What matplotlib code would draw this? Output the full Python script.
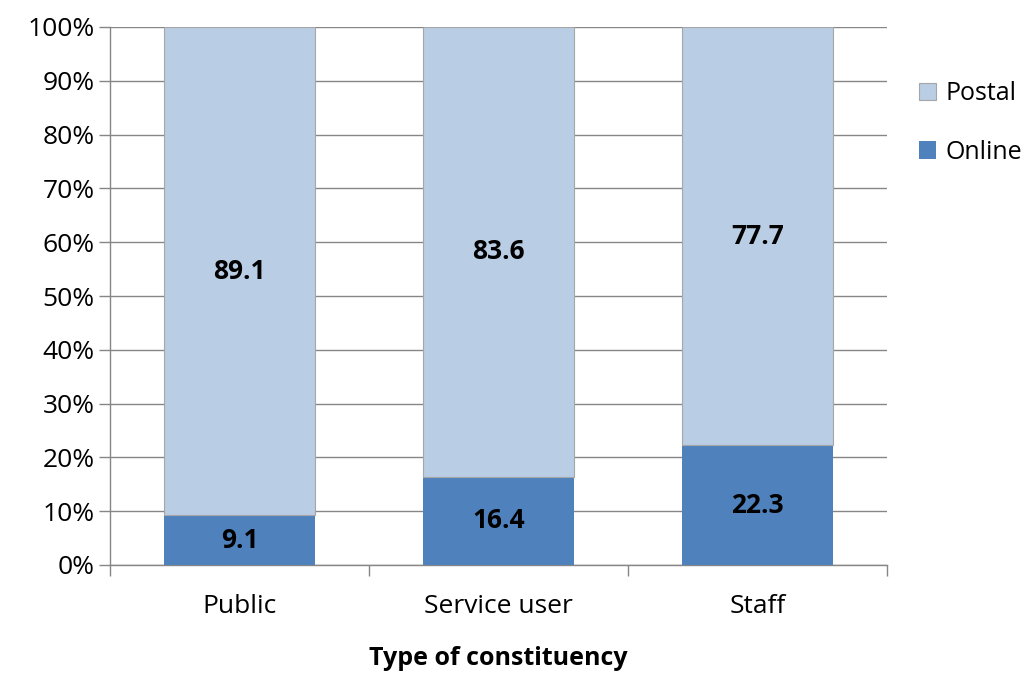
import numpy as np
import matplotlib.pyplot as plt

plt.rcParams['font.family'] = ['Open Sans', 'DejaVu Sans']

categories = ["Public", "Service user", "Staff"]
online = [9.1, 16.4, 22.3]
postal = [89.1, 83.6, 77.7]
yticks = [0, 10, 20, 30, 40, 50, 60, 70, 80, 90, 100]

on = np.array(online)
po = np.array(postal)
tot = on + po
on_pct = on / tot * 100
po_pct = po / tot * 100

fig = plt.figure(figsize=(10.33, 6.75), dpi=100)
ax = fig.add_axes([110 / 1033, 1 - 565 / 675, 777 / 1033, 538 / 675])

x = np.arange(len(categories))
w = 0.58
ax.bar(x, on_pct, w, color='#4F81BD', label='Online', zorder=3)
ax.bar(x, po_pct, w, bottom=on_pct, color='#B9CDE5', edgecolor='#A6A6A6',
       linewidth=0.8, label='Postal', zorder=3)

for i in range(len(categories)):
    ax.text(x[i], on_pct[i] / 2, f"{online[i]:.1f}", ha='center', va='center',
            fontsize=19, fontweight='bold', zorder=4)
    ax.text(x[i], on_pct[i] + po_pct[i] / 2, f"{postal[i]:.1f}", ha='center', va='center',
            fontsize=19, fontweight='bold', zorder=4)

ax.set_xlim(-0.5, len(categories) - 0.5)
ax.set_ylim(0, 100)
ax.set_yticks(yticks)
ax.set_yticklabels([f"{t}%" for t in yticks], fontsize=19)
ax.set_xticks(x)
ax.set_xticklabels(categories, fontsize=19)
ax.tick_params(axis='x', length=0, pad=21)
ax.set_xticks(np.arange(len(categories) + 1) - 0.5, minor=True)
ax.tick_params(axis='x', which='minor', length=8, color='#868686', width=1)
ax.tick_params(axis='y', length=8, color='#868686', width=1, pad=3)
ax.yaxis.grid(True, color='#868686', linewidth=1, zorder=0)
for s in ['top', 'right']:
    ax.spines[s].set_visible(False)
for s in ['left', 'bottom']:
    ax.spines[s].set_color('#868686')
    ax.spines[s].set_linewidth(1)

ax.set_xlabel("Type of constituency", fontsize=18, fontweight='bold', labelpad=19)

h, l = ax.get_legend_handles_labels()
ax.legend(h[::-1], l[::-1], loc='upper left', bbox_to_anchor=(1.028, 0.918), frameon=False,
          fontsize=18, handlelength=0.7, handleheight=0.7, handletextpad=0.35,
          labelspacing=1.35, borderaxespad=0)

fig.savefig("out.png", dpi=100)
